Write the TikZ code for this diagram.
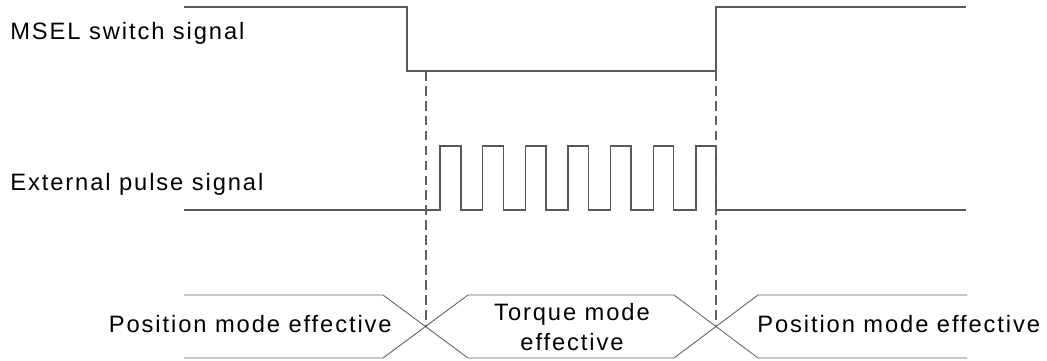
\documentclass[tikz,border=0pt]{standalone}
\usepackage{fontspec}
\setmainfont{Liberation Sans}[LetterSpace=8]
\begin{document}
\begin{tikzpicture}[x=0.02cm, y=-0.02cm, font=\fontsize{13.5}{17.6}\selectfont,
    wave/.style={black!65, line width=0.8pt},
    bus/.style={black!62, line width=0.5pt},
    guide/.style={black!62, line width=0.6pt, dash pattern=on 5.5pt off 3pt},
    lab/.style={inner sep=0pt}]
        \useasboundingbox (0,0) rectangle (1047,360);
        % MSEL switch signal
        \draw[wave] (184,7) -- (407,7) -- (407,71) -- (716,71) -- (716,7) -- (966,7);
        % external pulse train
        \draw[wave] (184,210) foreach \k in {0,...,6} {
            -- ({440+42.67*\k},210) -- ({440+42.67*\k},146) -- ({461+42.5*\k},146) -- ({461+42.5*\k},210)
          } -- (966,210);
        % mode bus
        \foreach \ya/\yb in {295/358, 358/295} {
          \draw[bus] (184,\ya) -- (383,\ya) -- (468,\yb) -- (674,\yb) -- (758,\ya) -- (967,\ya);
        }
        \foreach \xd in {426,716} {
          \draw[guide] (\xd,71) -- (\xd,327);
        }
        \node[lab, anchor=base west] (msel) at (10,39) {MSEL switch signal};
        \node[lab, anchor=base west] (pulse) at (10,190) {External pulse signal};
        \node[lab, anchor=base east] (posl) at (392,332) {Position mode effective};
        \node[lab, align=center] (torque) at (572,327) {Torque mode\\effective};
        \node[lab, anchor=base west] (posr) at (757,332) {Position mode effective};
      \end{tikzpicture}
\end{document}
